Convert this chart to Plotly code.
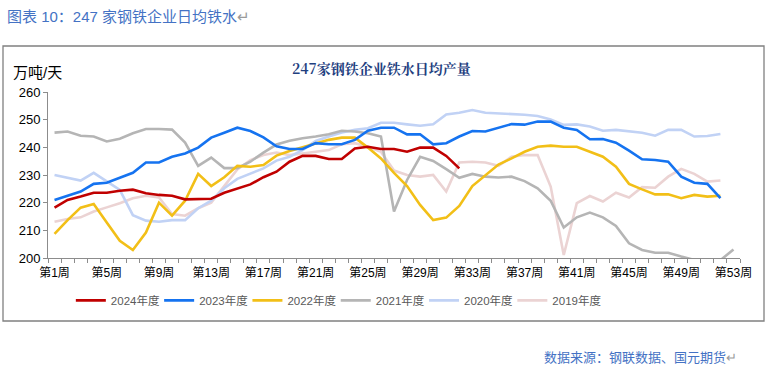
import plotly.graph_objects as go

weeks = list(range(1, 54))
tick_weeks = list(range(1, 54, 4))
tick_labels = [f"第{w}周" for w in tick_weeks]

y2024 = [218.2, 221.0, 222.2, 223.6, 223.6, 224.3, 224.7, 223.4, 222.8, 222.5,
         221.2, 221.4, 221.4, 223.6, 225.2, 226.6, 229.2, 231.2, 234.8, 236.9,
         236.9, 235.8, 235.8, 239.6, 240.2, 239.4, 239.4, 238.4, 239.9, 239.9,
         236.9, 232.4]
y2023 = [221.0, 222.5, 224.0, 226.8, 227.2, 229.0, 230.8, 234.5, 234.5, 236.6,
         237.8, 239.9, 243.5, 245.3, 247.1, 245.9, 243.6, 240.4, 239.4, 239.4,
         241.5, 241.1, 241.1, 242.7, 246.0, 247.1, 247.1, 244.7, 244.7, 241.1,
         241.5, 243.9, 245.9, 245.7, 247.0, 248.4, 248.2, 249.3, 249.3, 247.1,
         246.3, 242.9, 243.0, 241.7, 238.8, 235.7, 235.4, 234.8, 229.4, 227.2,
         226.8, 221.6]
y2022 = [208.7, 213.7, 218.2, 219.5, 212.8, 206.2, 202.9, 209.2, 220.0, 215.3,
         220.7, 230.4, 226.0, 229.2, 233.3, 233.0, 233.6, 237.0, 238.7, 240.0,
         241.5, 242.7, 243.5, 243.5, 239.9, 236.0, 230.8, 226.0, 219.2, 213.7,
         214.6, 218.8, 226.0, 230.0, 233.8, 236.0, 238.4, 240.2, 240.6, 240.2,
         240.2, 238.4, 236.6, 233.0, 226.8, 224.8, 223.0, 223.0, 221.6, 222.8,
         222.2, 222.5]
y2021 = [245.3, 245.7, 244.2, 243.9, 242.1, 243.1, 245.1, 246.6, 246.6, 246.4,
         241.7, 233.3, 236.3, 232.5, 232.5, 234.8, 238.1, 241.0, 242.4, 243.3,
         243.9, 244.7, 246.0, 245.7, 245.1, 243.9, 216.8, 228.2, 236.6, 235.1,
         232.1, 229.0, 230.4, 229.4, 229.1, 229.4, 227.8, 225.2, 220.7, 211.0,
         214.7, 216.4, 214.7, 211.6, 205.3, 202.9, 201.9, 201.9, 200.5, 199.3,
         198.8, 199.2, 203.1]
y2020 = [230.0, 229.0, 228.0, 230.8, 227.6, 224.6, 215.5, 213.5, 213.1, 213.7,
         213.7, 218.0, 220.7, 225.2, 228.6, 230.6, 232.4, 235.2, 236.6, 239.0,
         242.3, 243.9, 245.4, 246.3, 246.9, 248.9, 248.9, 248.3, 247.8, 248.3,
         251.9, 252.5, 253.5, 252.5, 252.3, 252.0, 251.8, 251.3, 250.1, 248.1,
         248.3, 247.5, 246.0, 246.3, 245.9, 245.3, 244.2, 246.3, 246.3, 243.9,
         244.1, 244.8]
y2019 = [213.1, 214.1, 214.7, 216.8, 218.3, 219.8, 221.6, 222.5, 221.9, 215.9,
         215.3, 218.0, 220.0, 226.0, 232.0, 235.4, 237.2, 238.1, 237.2, 237.8,
         238.4, 239.0, 241.1, 241.5, 240.2, 238.4, 231.6, 230.0, 229.4, 230.0,
         224.0, 234.5, 234.8, 234.5, 233.3, 236.6, 237.2, 237.2, 225.8, 201.1,
         219.8, 222.4, 220.4, 223.6, 221.9, 225.6, 225.4, 229.4, 232.2, 230.4,
         227.6, 228.0]

series = [
    ("2024年度", y2024, "#C00000"),
    ("2023年度", y2023, "#1573F0"),
    ("2022年度", y2022, "#F2BF17"),
    ("2021年度", y2021, "#B5B5B5"),
    ("2020年度", y2020, "#C1D2F5"),
    ("2019年度", y2019, "#EBD3D3"),
]

FONT = "Liberation Sans, Noto Sans CJK SC, sans-serif"

fig = go.Figure()
for rank, (name, vals, color) in reversed(list(enumerate(series))):
    fig.add_trace(go.Scatter(
        x=weeks[:len(vals)], y=vals, name=name, mode="lines",
        line=dict(color=color, width=2.6), legendrank=rank + 1,
    ))
# blank legend slot so the last legend label is not clipped
fig.add_trace(go.Scatter(x=[None], y=[None], name=" ", mode="lines",
                         line=dict(color="rgba(0,0,0,0)", width=0),
                         legendrank=99, hoverinfo="skip"))

fig.update_layout(
    width=765, height=370,
    margin=dict(l=48, r=25, t=92, b=112),
    paper_bgcolor="white", plot_bgcolor="white",
    font=dict(family=FONT, color="#000000"),
    showlegend=True,
    legend=dict(
        orientation="h", x=0.033, xanchor="left", y=-0.255, yanchor="middle",
        font=dict(size=11.5, color="#595959", family=FONT),
        entrywidth=43.3, entrywidthmode="pixels",
        traceorder="normal", itemwidth=30,
        bgcolor="rgba(0,0,0,0)",
    ),
    xaxis=dict(
        range=[0.5, 53.5], tickmode="array", tickvals=tick_weeks, ticktext=tick_labels,
        ticks="outside", ticklen=4, tickcolor="rgba(0,0,0,0)",
        showline=True, linecolor="#8C8C8C", linewidth=1,
        tickfont=dict(size=12, color="#000000"), showgrid=False, zeroline=False,
        minor=dict(tickmode="linear", tick0=0.5, dtick=1, ticks="outside",
                   ticklen=4, tickcolor="#8C8C8C", showgrid=False),
    ),
    yaxis=dict(
        range=[200, 260], dtick=10, ticks="outside", ticklen=4, tickcolor="#8C8C8C",
        showline=True, linecolor="#8C8C8C", linewidth=1, showgrid=False, zeroline=False,
        tickfont=dict(size=13, color="#000000"),
    ),
)

# outer frame
fig.add_shape(type="rect", xref="paper", yref="paper",
              x0=(3 - 48) / 692, x1=(764 - 48) / 692,
              y0=(258 - 321) / 166, y1=(258 - 46) / 166,
              line=dict(color="#808080", width=1.3), fillcolor="rgba(0,0,0,0)",
              layer="below")

# heading text
fig.add_annotation(xref="paper", yref="paper", x=(5 - 48) / 692, y=(258 - 16) / 166,
                   xanchor="left", yanchor="middle", showarrow=False,
                   text="图表 10：247 家钢铁企业日均铁水<span style='color:#9a9a9a'>↵</span>",
                   font=dict(size=15, color="#4472C4", family=FONT))
# chart title
fig.add_annotation(xref="paper", yref="paper", x=(381 - 48) / 692, y=(258 - 68) / 166,
                   xanchor="center", yanchor="middle", showarrow=False,
                   text="<b>247家钢铁企业铁水日均产量</b>",
                   font=dict(size=14, color="#1F3F7F", family="Noto Serif CJK SC, Noto Sans CJK SC"))
# unit
fig.add_annotation(xref="paper", yref="paper", x=(11 - 48) / 692, y=(258 - 72) / 166,
                   xanchor="left", yanchor="middle", showarrow=False,
                   text="万吨/天", font=dict(size=15, color="#000000", family=FONT))
# source
fig.add_annotation(xref="paper", yref="paper", x=(739 - 48) / 692, y=(258 - 357) / 166,
                   xanchor="right", yanchor="middle", showarrow=False,
                   text="数据来源：钢联数据、国元期货<span style='color:#9a9a9a'>↵</span>",
                   font=dict(size=13, color="#4472C4", family=FONT))

fig.write_html("out.html", config={"displayModeBar": False},
               post_script="document.body.style.margin='0';document.body.style.overflow='hidden';")
